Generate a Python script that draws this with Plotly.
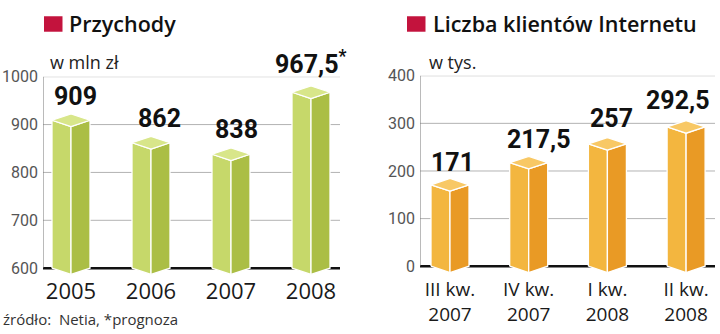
import plotly.graph_objects as go

# ---------------- data ----------------
rev_categories = ["2005", "2006", "2007", "2008"]
rev_values = [909, 862, 838, 967.5]
rev_labels = ["909", "862", "838", "967,5<sup>*</sup>"]
rev_ticks = [600, 700, 800, 900, 1000]

cli_categories = ["III kw.<br>2007", "IV kw.<br>2007", "I kw.<br>2008", "II kw.<br>2008"]
cli_values = [171, 217.5, 257, 292.5]
cli_labels = ["171", "217,5", "257", "292,5"]
cli_ticks = [0, 100, 200, 300, 400]

# ---------------- style / layout ----------------
W, H = 720, 334
FONT = "Roboto"
TEXT_FONT = "Open Sans"
RED = "#c3133d"

panels = [
    dict(name="rev", cats=rev_categories, vals=rev_values, labels=rev_labels, ticks=rev_ticks,
         px_left=43, px_right=340, px_first=71, px_step=80, px_top=70, px_base=268,
         colors=("#c6d86a", "#abbe45", "#d8e68a"), label_dx=[4, 8, 5, 0], label_dy=[1, 1, 2, 5],
         title="Przychody", title_x=67, sq_x=44, unit="w mln zł", unit_x=48,
         xfont=22, xstand=0),
    dict(name="cli", cats=cli_categories, vals=cli_values, labels=cli_labels, ticks=cli_ticks,
         px_left=420, px_right=715, px_first=450, px_step=78.7, px_top=69, px_base=266,
         colors=("#f3b63f", "#e99a25", "#f8c865"), label_dx=[2, 10, 4, -8], label_dy=[0, 0, 3, 4],
         title="Liczba klientów Internetu", title_x=431, sq_x=407, unit="w tys.", unit_x=427,
         xfont=19, xstand=2),
]

HALF_W_PX = 19     # half width of a prism
DEPTH_PX = 6.5     # vertical half-height of the top rhombus
EXTRA_PX = 8       # plot area extension below the base so the prism tips show

fig = go.Figure()
layout = dict(width=W, height=H, margin=dict(l=0, r=0, t=0, b=0),
              paper_bgcolor="white", plot_bgcolor="white", showlegend=False)
shapes, annotations = [], []

for k, p in enumerate(panels):
    xs = "" if k == 0 else str(k + 1)
    xa, ya = "x" + xs, "y" + xs
    tvals = p["ticks"]
    lo, hi = tvals[0], tvals[-1]
    ppu_y = (p["px_base"] - p["px_top"]) / (hi - lo)       # pixels per unit (y)
    ppu_x = p["px_step"]                                      # pixels per category
    extra_u = EXTRA_PX / ppu_y
    x0 = -(p["px_first"] - p["px_left"]) / ppu_x
    n = len(p["vals"])
    x1 = (n - 1) + (p["px_right"] - (p["px_first"] + (n - 1) * ppu_x)) / ppu_x
    dom_x = [p["px_left"] / W, p["px_right"] / W]
    dom_y = [1 - (p["px_base"] + EXTRA_PX) / H, 1 - p["px_top"] / H]

    # gridlines (drawn as axis decorations)
    for t in tvals[1:]:
        shapes.append(dict(type="line", xref=xa, yref=ya, x0=x0, x1=x1, y0=t, y1=t,
                           line=dict(color="#b3b3b3", width=1), layer="below"))
    # base line (black) and vertical axis line
    shapes.append(dict(type="line", xref=xa, yref=ya, x0=x0, x1=x1, y0=lo, y1=lo,
                       line=dict(color="#111", width=2.5), layer="below"))
    shapes.append(dict(type="line", xref=xa, yref=ya, x0=x0, x1=x0, y0=lo, y1=hi,
                       line=dict(color="#777", width=1), layer="below"))

    w = HALF_W_PX / ppu_x
    d = DEPTH_PX / ppu_y
    cl, cr, ct = p["colors"]
    for i, v in enumerate(p["vals"]):
        faces = [
            ([i - w, i - w, i, i, i - w], [lo, v, v - d, lo - d, lo], cl),
            ([i, i + w, i + w, i, i], [v - d, v, lo, lo - d, v - d], cr),
            ([i - w, i, i + w, i, i - w], [v, v + d, v, v - d, v], ct),
        ]
        for fx, fy, col in faces:
            fig.add_trace(go.Scatter(x=fx, y=fy, xaxis=xa, yaxis=ya, mode="lines",
                                     fill="toself", fillcolor=col,
                                     line=dict(color="white", width=1.3),
                                     hoverinfo="skip"))
        annotations.append(dict(x=i, y=v + d, xref=xa, yref=ya, text="<b>%s</b>" % p["labels"][i],
                                showarrow=False, yanchor="bottom", xanchor="center",
                                xshift=p["label_dx"][i], yshift=p["label_dy"][i],
                                font=dict(family=FONT, size=25, color="#111")))

    layout["xaxis" + xs] = dict(domain=dom_x, range=[x0, x1], anchor=ya,
                                tickmode="array", tickvals=list(range(n)), ticktext=p["cats"],
                                showgrid=False, zeroline=False, showline=False, ticks="",
                                tickfont=dict(family=TEXT_FONT, size=p["xfont"], color="#1a1a1a"),
                                ticklabelstandoff=p["xstand"])
    layout["yaxis" + xs] = dict(domain=dom_y, range=[lo - extra_u, hi], anchor=xa,
                                tickmode="array", tickvals=tvals, ticktext=[str(t) for t in tvals],
                                showgrid=False, zeroline=False, showline=False, ticks="",
                                tickfont=dict(family=FONT, size=16, color="#555"),
                                ticklabelstandoff=4)
    # title square + title
    shapes.append(dict(type="rect", xref="paper", yref="paper",
                       x0=p["sq_x"] / W, x1=(p["sq_x"] + 18.5) / W,
                       y0=1 - 23.5 / H, y1=1 - 7.5 / H,
                       fillcolor=RED, line=dict(width=0)))
    annotations.append(dict(x=p["title_x"] / W, y=1 - 15 / H, xref="paper", yref="paper",
                            text=p["title"], showarrow=False, xanchor="left", yanchor="middle",
                            font=dict(family=TEXT_FONT, size=21.5, color="#111", weight=600)))
    annotations.append(dict(x=p["unit_x"] / W, y=1 - 55 / H, xref="paper", yref="paper",
                            text=p["unit"], showarrow=False, xanchor="left", yanchor="middle",
                            font=dict(family=TEXT_FONT, size=18, color="#222")))

annotations.append(dict(x=1 / W, y=1 - 321 / H, xref="paper", yref="paper",
                        text="źródło:  Netia, *prognoza", showarrow=False,
                        xanchor="left", yanchor="middle",
                        font=dict(family=TEXT_FONT, size=15, color="#333")))

layout["shapes"] = shapes
layout["annotations"] = annotations
fig.update_layout(**layout)
fig.write_html("out.html")
